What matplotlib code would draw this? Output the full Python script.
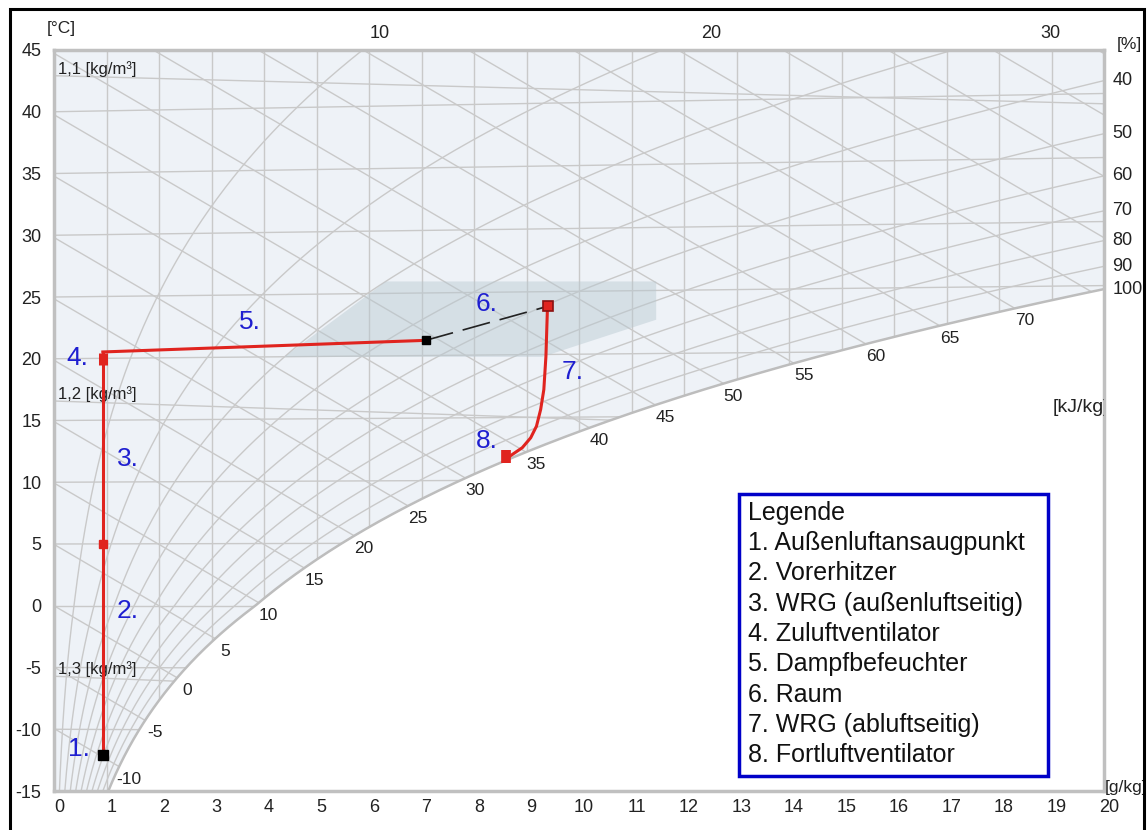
import numpy as np
import matplotlib.pyplot as plt
import matplotlib.transforms as mtransforms
from matplotlib.patches import Polygon, Rectangle

plt.rcParams['font.family'] = ['Liberation Sans', 'DejaVu Sans']
plt.rcParams['axes.unicode_minus'] = False

# chart scales
P = 998.0          # hPa, chart pressure
P_TOP = 1013.25    # hPa, partial pressure scale on top
x_ticks = list(range(0, 21))
t_ticks = list(range(-15, 50, 5))
enthalpy_levels = list(range(-10, 100, 5))
enthalpy_labels = list(range(-10, 75, 5))
rh_levels = [10, 20, 30, 40, 50, 60, 70, 80, 90]
rh_labels = [40, 50, 60, 70, 80, 90, 100]
density_levels = [1.1, 1.2, 1.3]
density_names = ["1,1 [kg/m³]", "1,2 [kg/m³]", "1,3 [kg/m³]"]
pressure_ticks = [10, 20, 30]

# process path (x in g/kg, y in °C scale)
intake_x = [0.93, 0.93]
intake_y = [-12.06, 20.55]
preheat_pt = (0.93, 4.98)
fan_in_x = [0.93, 0.93]
fan_in_y = [19.5, 20.5]
humid_x = [0.93, 7.08]
humid_y = [20.55, 21.49]
room_x = [7.08, 9.40]
room_y = [21.49, 24.24]
wrg_x = [9.40, 9.37, 9.33, 9.27, 9.19, 9.08, 8.92, 8.73, 8.64]
wrg_y = [24.24, 20.2, 17.5, 15.9, 14.54, 13.6, 12.8, 12.25, 11.98]
fan_out_x = [8.60, 8.60]
fan_out_y = [11.58, 12.6]

comfort_x = [4.39, 6.32, 11.47, 11.47, 9.30]
comfort_y = [20.15, 26.26, 26.26, 23.16, 20.15]

step_names = ["1.", "2.", "3.", "4.", "5.", "6.", "7.", "8."]
step_x = [0.48, 1.41, 1.41, 0.44, 3.73, 8.23, 9.87, 8.25]
step_y = [-11.6, -0.46, 11.9, 20.1, 23.0, 24.4, 18.9, 13.3]

legend_lines = ["Legende",
                "1. Außenluftansaugpunkt",
                "2. Vorerhitzer",
                "3. WRG (außenluftseitig)",
                "4. Zuluftventilator",
                "5. Dampfbefeuchter",
                "6. Raum",
                "7. WRG (abluftseitig)",
                "8. Fortluftventilator"]


def p_sat(t):
    t = np.asarray(t, dtype=float)
    water = 6.112 * np.exp(17.62 * t / (243.12 + t))
    ice = 6.112 * np.exp(22.46 * t / (272.62 + t))
    return np.where(t >= 0, water, ice)


def x_of(pv, p=P):
    return 622.0 * pv / (p - pv)


def y_of(t, x):
    # skewed Mollier ordinate: (h - 2.501 x) / 1.006
    return t + 0.001849 * t * x


W, H = 1148, 830
fig = plt.figure(figsize=(W / 100, H / 100), dpi=100)
ax = fig.add_axes([54 / W, 39 / H, 1050 / W, 741 / H])
ax.set_xlim(0, 20)
ax.set_ylim(-15, 45)
ax.set_facecolor('white')

# unsaturated region
t_sat = np.linspace(-25, 27, 600)
x_sat = x_of(p_sat(t_sat))
y_sat = y_of(t_sat, x_sat)
region = [(0, -30)] + list(zip(x_sat, y_sat)) + [(x_sat[-1], 60), (0, 60)]
bg = Polygon(region, closed=True, facecolor='#eef2f7', edgecolor='none', zorder=0)
ax.add_patch(bg)

grid_kw = dict(color='#c9c9c9', lw=1.0, zorder=1)

for xv in x_ticks:
    ln, = ax.plot([xv, xv], [-30, 60], **grid_kw)
    ln.set_clip_path(bg)

xx = np.linspace(0, 21, 200)
for t in t_ticks:
    ln, = ax.plot(xx, y_of(t, xx), **grid_kw)
    ln.set_clip_path(bg)

for h in enthalpy_levels:
    ln, = ax.plot(xx, (h - 2.501 * xx) / 1.006, **grid_kw)
    ln.set_clip_path(bg)

tt = np.linspace(-25, 70, 800)
for rh in rh_levels:
    xr = x_of(rh / 100 * p_sat(tt))
    ok = (xr > 0) & (xr < 40)
    ln, = ax.plot(xr[ok], y_of(tt[ok], xr[ok]), **grid_kw)
    ln.set_clip_path(bg)

for rho, name in zip(density_levels, density_names):
    xd = np.linspace(0, 21, 100)
    T = P * 100 * (1 + xd / 1000) / (287.05 * rho * (1 + 1.6078 * xd / 1000))
    td = T - 273.15
    ln, = ax.plot(xd, y_of(td, xd), **grid_kw)
    ln.set_clip_path(bg)
    y0 = min(y_of(td[0], 0), 43.0)
    ax.annotate(name, (0, y0), xytext=(3, 5), textcoords='offset points',
                ha='left', va='center', fontsize=12, color='#222222', zorder=3)

ax.plot(x_sat, y_sat, color='#bdbdbd', lw=1.8, zorder=2)

# enthalpy labels along the saturation curve
h_sat = 1.006 * t_sat + x_sat * (2.501 + 0.00186 * t_sat)
for h in enthalpy_labels:
    th = np.interp(h, h_sat, t_sat)
    xh = np.interp(h, h_sat, x_sat)
    ax.annotate(str(h), (xh, y_of(th, xh)), xytext=(7, -9), textcoords='offset points',
                ha='center', va='center', fontsize=12.5, color='#222222')
ax.text(19.03, 16.06, "[kJ/kg]", fontsize=14, ha='left', va='center',
        color='#222222', clip_on=True)

# comfort zone
ax.add_patch(Polygon(list(zip(comfort_x, comfort_y)), closed=True,
                     facecolor='#b8c8d0', alpha=0.45, edgecolor='none', zorder=3))

# process path
red = '#e0241f'
ax.plot(intake_x, intake_y, color=red, lw=2.2, zorder=5)
ax.plot(fan_in_x, fan_in_y, color=red, lw=6.5, solid_capstyle='butt', zorder=6)
ax.plot(humid_x, humid_y, color=red, lw=2.2, zorder=5)
ln, = ax.plot(room_x, room_y, color='#222222', lw=1.2, zorder=5)
ln.set_dashes((17, 6))
ax.plot(wrg_x, wrg_y, color=red, lw=2.2, zorder=5)
ax.plot(fan_out_x, fan_out_y, color=red, lw=7, solid_capstyle='butt', zorder=6)
ax.plot([intake_x[0]], [intake_y[0]], 's', color='black', ms=6.5, zorder=7)
ax.plot([preheat_pt[0]], [preheat_pt[1]], 's', color=red, ms=6, zorder=7)
ax.plot([humid_x[-1]], [humid_y[-1]], 's', color='black', ms=6, zorder=7)
ax.plot([room_x[-1]], [room_y[-1]], 's', color=red, mec='#8a1010', mew=1.2, ms=7, zorder=7)

for name, sx, sy in zip(step_names, step_x, step_y):
    ax.text(sx, sy, name, fontsize=19, color='#1f1fd0', ha='center', va='center', zorder=8)

# axes look
for s in ax.spines.values():
    s.set_color('#c0c0c0')
    s.set_linewidth(2.5)
ax.set_xticks(x_ticks)
ax.set_yticks(t_ticks)
ax.tick_params(length=0, labelsize=13, labelcolor='#222222')
ax.tick_params(axis='y', pad=9)
ax.tick_params(axis='x', pad=6)
shift = mtransforms.ScaledTranslation(5 / 100, 0, fig.dpi_scale_trans)
for lbl in ax.get_xticklabels():
    lbl.set_transform(lbl.get_transform() + shift)

# partial pressure scale on top
for p in pressure_ticks:
    fig.text((54 + x_of(p, P_TOP) * 52.5) / W, 1 - 33 / H, str(p), fontsize=13,
             ha='center', va='center', color='#222222')

# relative humidity labels on the right
pv20 = 20 * P / (622 + 20)
trans = mtransforms.blended_transform_factory(ax.transAxes, ax.transData)
for rh in rh_labels:
    ps = pv20 / (rh / 100)
    lnp = np.log(ps / 6.112)
    t = 243.12 * lnp / (17.62 - lnp)
    ax.annotate(str(rh), (1, y_of(t, 20)), xycoords=trans, xytext=(6, 0),
                textcoords='offset points', ha='left', va='center', fontsize=13,
                color='#222222', annotation_clip=False)

fig.text(47 / W, 1 - 29 / H, "[°C]", fontsize=12.5, ha='left', va='center', color='#222222')
fig.text(1117 / W, 1 - 45 / H, "[%]", fontsize=12.5, ha='left', va='center', color='#222222')
fig.text(1105 / W, 1 - 787 / H, "[g/kg]", fontsize=12.5, ha='left', va='center', color='#222222')

# legend box
fig.add_artist(Rectangle((739 / W, 1 - 776 / H), 309 / W, 282 / H, transform=fig.transFigure,
                         facecolor='white', edgecolor='#0000c8', lw=2.5, zorder=10))
for i, line in enumerate(legend_lines):
    fig.text(748 / W, 1 - (513 + 30.25 * i) / H, line, fontsize=18, ha='left', va='center',
             color='#111111', zorder=11)

# outer frame
fig.add_artist(Rectangle((10 / W, -0.02), 1134 / W, 1.02 - 9 / H, transform=fig.transFigure,
                         facecolor='none', edgecolor='black', lw=2.2, zorder=12))

fig.savefig('out.png', dpi=100)
